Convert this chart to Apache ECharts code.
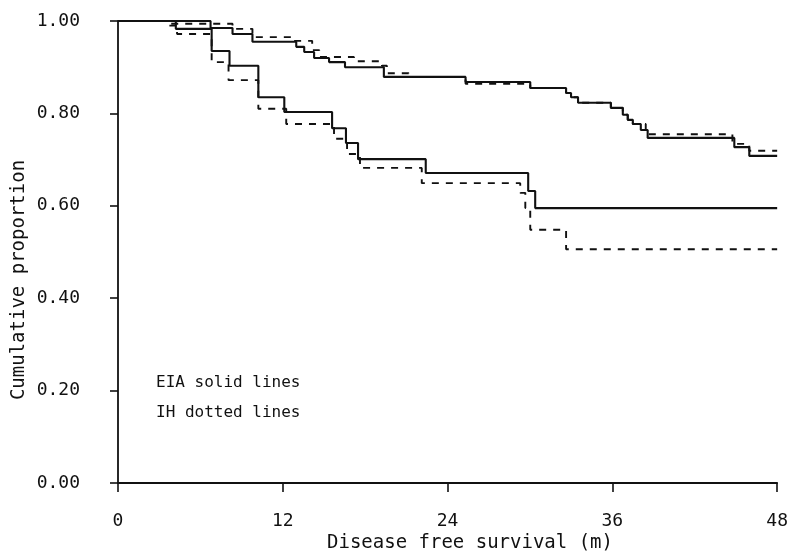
<!DOCTYPE html>
<html>
<head>
<meta charset="utf-8">
<script src="https://cdn.jsdelivr.net/npm/echarts@6/dist/echarts.min.js"></script>
<style>
  html, body { margin: 0; background: #fff; }
  #chart { width: 791px; height: 551px; }
</style>
</head>
<body>
<div id="chart"></div>
<script>
  // x: months, y: cumulative proportion (step values)
  const xTicks = [0, 12, 24, 36, 48]
  const yTicks = [0, 0.2, 0.4, 0.6, 0.8, 1.0]

  // upper pair
  const upperEiaTime = [0, 6.74, 8.34, 9.79, 12.98, 13.56, 14.28, 15.37, 16.53, 19.36, 25.31, 30.02, 32.63, 32.99, 33.5, 35.89, 36.76, 37.12, 37.49, 38.07, 38.57, 44.88, 45.97, 48]
  const upperEiaSurv = [1, 0.985, 0.972, 0.955, 0.944, 0.933, 0.92, 0.911, 0.9, 0.879, 0.868, 0.855, 0.844, 0.835, 0.823, 0.812, 0.797, 0.786, 0.777, 0.764, 0.747, 0.727, 0.708, 0.708]
  const upperIhTime = [0, 3.63, 8.34, 9.79, 12.69, 14.14, 14.65, 17.18, 19.22, 19.58, 21.17, 25.31, 30.02, 32.63, 32.99, 33.5, 35.89, 36.76, 37.12, 37.49, 38.43, 44.74, 45.97, 48]
  const upperIhSurv = [1, 0.994, 0.983, 0.965, 0.957, 0.937, 0.922, 0.913, 0.903, 0.887, 0.879, 0.864, 0.855, 0.844, 0.835, 0.823, 0.812, 0.797, 0.786, 0.777, 0.755, 0.734, 0.719, 0.719]

  // lower pair
  const lowerEiaTime = [0, 4.21, 6.82, 8.12, 10.22, 12.11, 15.59, 16.6, 17.48, 22.41, 29.87, 30.38, 48]
  const lowerEiaSurv = [1, 0.983, 0.935, 0.903, 0.835, 0.803, 0.768, 0.736, 0.701, 0.671, 0.632, 0.595, 0.595]
  const lowerIhTime = [0, 3.7, 4.3, 6.82, 8.05, 10.22, 12.25, 15.73, 16.68, 17.62, 22.12, 29.29, 29.66, 30.02, 32.63, 48]
  const lowerIhSurv = [1, 0.99, 0.972, 0.911, 0.872, 0.81, 0.777, 0.745, 0.712, 0.682, 0.649, 0.628, 0.595, 0.548, 0.506, 0.506]

  const zip = (t, s) => t.map((v, i) => [v, s[i]])

  const mono = '"DejaVu Sans Mono", monospace'
  const ink = '#111'

  const curve = (name, data, dashed) => ({
    type: 'line',
    name: name,
    step: 'end',
    symbol: 'none',
    data: data,
    animation: false,
    lineStyle: {
      color: ink,
      width: dashed ? 1.9 : 2.1,
      type: dashed ? [7, 7] : 'solid'
    }
  })

  const chart = echarts.init(document.getElementById('chart'))
  chart.setOption({
    backgroundColor: '#fff',
    grid: { left: 118, right: 11, top: 21, bottom: 68 },
    xAxis: [
      {
        type: 'value', min: 0, max: 48, interval: 12,
        axisLine: { show: true, lineStyle: { color: ink, width: 1.8 } },
        axisTick: { show: false }, axisLabel: { show: false }, splitLine: { show: false }
      },
      {
        type: 'value', min: 0, max: 48, interval: 12, position: 'bottom', offset: 15,
        axisLine: { show: false },
        axisTick: { show: true, length: 9, lineStyle: { color: ink, width: 1.6 } },
        axisLabel: { margin: 14, color: ink, fontFamily: mono, fontSize: 18 },
        splitLine: { show: false }
      }
    ],
    yAxis: [
      {
        type: 'value', min: 0, max: 1, interval: 0.2,
        axisLine: { show: true, lineStyle: { color: ink, width: 1.8 } },
        axisTick: { show: false }, axisLabel: { show: false }, splitLine: { show: false }
      },
      {
        type: 'value', min: 0, max: 1, interval: 0.2, position: 'left', offset: 18,
        axisLine: { show: false },
        axisTick: { show: true, length: 8, lineStyle: { color: ink, width: 1.6 } },
        axisLabel: { margin: 20, color: ink, fontFamily: mono, fontSize: 18, formatter: v => v.toFixed(2) },
        splitLine: { show: false }
      }
    ],
    graphic: [
      { type: 'text', x: 470, y: 543, style: { text: 'Disease free survival (m)', font: '19px ' + mono, fill: ink, align: 'center', verticalAlign: 'middle' } },
      { type: 'text', x: 19, y: 280, rotation: Math.PI / 2, style: { text: 'Cumulative proportion', font: '19px ' + mono, fill: ink, align: 'center', verticalAlign: 'middle' } },
      { type: 'text', x: 156, y: 383, style: { text: 'EIA solid lines', font: '16px ' + mono, fill: ink, verticalAlign: 'middle' } },
      { type: 'text', x: 156, y: 413, style: { text: 'IH dotted lines', font: '16px ' + mono, fill: ink, verticalAlign: 'middle' } }
    ],
    series: [
      curve('EIA upper', zip(upperEiaTime, upperEiaSurv), false),
      curve('IH upper', zip(upperIhTime, upperIhSurv), true),
      curve('EIA lower', zip(lowerEiaTime, lowerEiaSurv), false),
      curve('IH lower', zip(lowerIhTime, lowerIhSurv), true)
    ]
  })
</script>
</body>
</html>
